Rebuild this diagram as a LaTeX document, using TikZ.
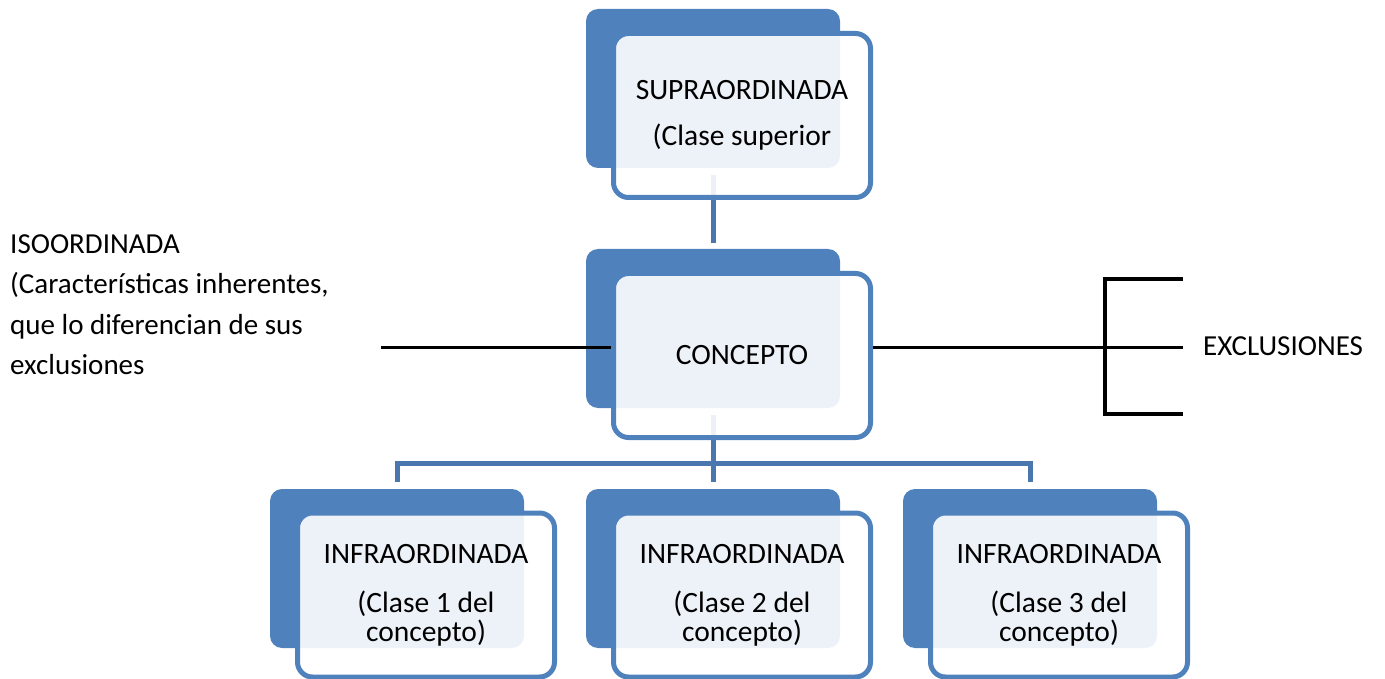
\documentclass[tikz,border=0pt]{standalone}
\usepackage{fontspec}
\setmainfont{Carlito}
\usetikzlibrary{backgrounds}
\definecolor{boxblue}{HTML}{4F81BD}
\definecolor{linkblue}{HTML}{4A77AE}
\tikzset{
  backbox/.style={fill=boxblue, rounded corners=12pt, minimum width=254pt,
    minimum height=159pt, inner sep=0pt},
  frontbox/.style={draw=boxblue, line width=5pt, fill=white, fill opacity=0.9,
    text opacity=1, rounded corners=15pt, minimum width=257pt,
    minimum height=164pt, inner sep=0pt, align=center,
    font=\fontsize{29.5}{29}\selectfont},
  link/.style={draw=linkblue, line width=5pt},
  rule/.style={line width=3.2pt},
  plain/.style={inner sep=0pt, font=\fontsize{29}{40.5}\selectfont}
}
\begin{document}
\begin{tikzpicture}[x=1pt,y=-1pt]
  \useasboundingbox (0,0) rectangle (1385,679);
  % back boxes
  \node[backbox] (supraback) at (713,88.5) {};
  \node[backbox] (concback) at (713,328.5) {};
  \node[backbox] (infraaback) at (397,568.5) {};
  \node[backbox] (infrabback) at (713,568.5) {};
  \node[backbox] (infracback) at (1030,568.5) {};
  % connectors, below the boxes
  \begin{scope}[on background layer]
    \coordinate (fork) at (713,463);
    \draw[link] ([yshift=-7pt]supraback.south) -- ([yshift=6pt]concback.north);
    \draw[link] ([yshift=-7pt]concback.south) -- (fork);
    \draw[link] ([yshift=7pt]infraaback.north) |- (fork) -| ([yshift=7pt]infracback.north);
    \draw[link] (fork) -- ([yshift=7pt]infrabback.north);
  \end{scope}
  % front boxes
  \node[frontbox] (supra) at (742,115.5) {SUPRAORDINADA\\[17pt](Clase superior};
  \node[frontbox] (concepto) at (742,355.5) {CONCEPTO};
  \node[frontbox] (infraa) at (426,595) {INFRAORDINADA\\[20pt](Clase 1 del\\concepto)};
  \node[frontbox] (infrab) at (742,595) {INFRAORDINADA\\[20pt](Clase 2 del\\concepto)};
  \node[frontbox] (infrac) at (1059,595) {INFRAORDINADA\\[20pt](Clase 3 del\\concepto)};
  % isoordinada and exclusiones
  \coordinate (isoend) at (381,347.5);
  \coordinate (brtop) at (1105,279);
  \coordinate (brmid) at (1105,347.5);
  \coordinate (brbot) at (1105,414);
  \coordinate (extop) at (1183,279);
  \coordinate (exmid) at (1183,347.5);
  \coordinate (exbot) at (1183,414);
  \draw[rule] (isoend) -- (concepto.west |- isoend);
  \draw[rule] (concepto.east |- brmid) -- (exmid);
  \draw[rule] (extop) -- (brtop) -- (brbot) -- (exbot);
  \node[plain, anchor=west, align=left] (iso) at (10,304.5)
    {ISOORDINADA\\(Características inherentes,\\que lo diferencian de sus\\exclusiones};
  \node[plain, anchor=base west] (excl) at (1203,355) {EXCLUSIONES};
\end{tikzpicture}
\end{document}
